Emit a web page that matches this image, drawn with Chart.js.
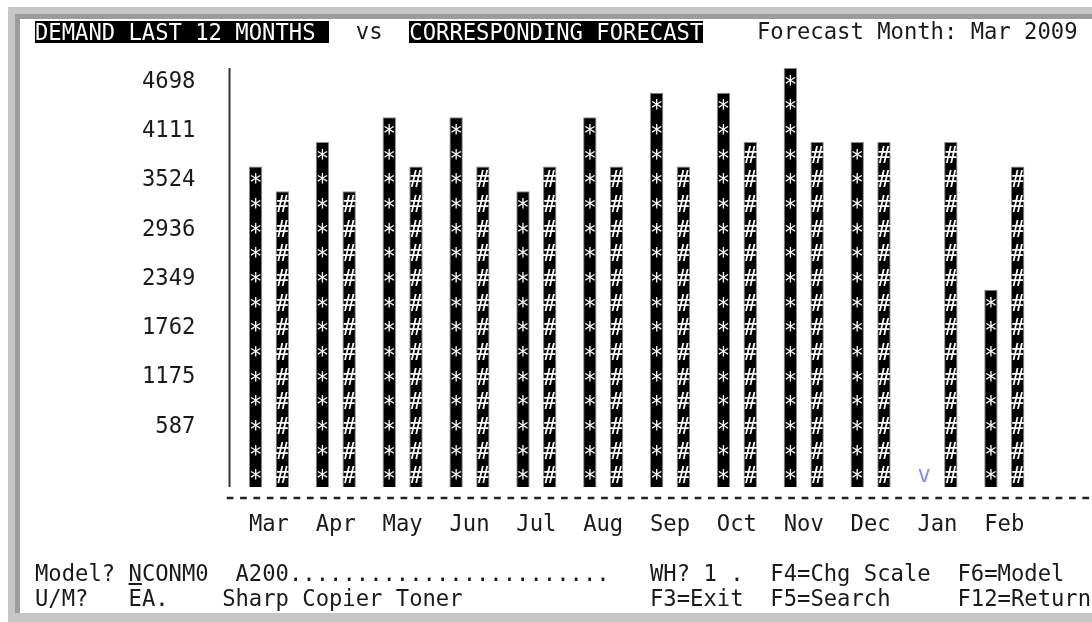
<!DOCTYPE html>
<html><head><meta charset="utf-8">
<script src="https://cdn.jsdelivr.net/npm/chart.js@4.4.0/dist/chart.umd.min.js"></script>
<style>
html,body{margin:0;padding:0;background:#fff;width:1092px;height:622px;overflow:hidden;position:relative;}
#frame{position:absolute;left:8px;top:7px;width:1100px;height:620px;background:#c6c6c6;}
#screen{position:absolute;left:15px;top:14px;width:1100px;height:594px;background:#fff;border-left:5px solid #9c9c9c;border-top:5px solid #9c9c9c;}
.t{position:absolute;font-family:'DejaVu Sans Mono',monospace;font-size:22.2px;line-height:24.65px;white-space:pre;color:#1a1a1a;z-index:3;}
.rv{background:#000;color:#fff;line-height:22px;height:22px;}
.ul{text-decoration:underline;text-decoration-thickness:2px;text-underline-offset:2px;}
#c{position:absolute;left:0;top:0;z-index:2;}
</style></head>
<body>
<div id="frame"></div>
<div id="screen"></div>
<canvas id="c" width="1092" height="622"></canvas>
<script>
// ---- data ----
const months = ['Mar','Apr','May','Jun','Jul','Aug','Sep','Oct','Nov','Dec','Jan','Feb'];
const demand = [3524, 3817, 4111, 4111, 3230, 4111, 4404, 4404, 4698, 3817, 0, 2055];
const forecast = [3230, 3230, 3524, 3524, 3524, 3524, 3524, 3817, 3817, 3817, 3817, 3524];
const yTickValues = [587, 1175, 1762, 2349, 2936, 3524, 4111, 4698];

// ---- terminal grid ----
const CW = 13.37, RH = 24.65, X0 = 21.6, Y0 = 18.7;
function put(col,row,text,cls,extraTop){
  const s=document.createElement('div');
  s.className='t'+(cls?' '+cls:'');
  s.style.left=(X0+col*CW)+'px';
  s.style.top=(Y0+row*RH+(extraTop||0))+'px';
  s.textContent=text;
  document.body.appendChild(s);
  return s;
}
put(1,0,'DEMAND LAST 12 MONTHS ','rv',2.3);
put(25,0,'vs');
put(29,0,'CORRESPONDING FORECAST','rv',2.3);
put(55,0,'Forecast Month: Mar 2009');
put(1,22,'Model?');
const n=put(8,22,'');
n.innerHTML='<span class="ul">N</span>CONM0';
put(16,22,'A200');
put(20,22,'........................');
put(47,22,'WH?');
put(51,22,'1');
put(53,22,'.');
put(56,22,'F4=Chg Scale');
put(70,22,'F6=Model');
put(1,23,'U/M?');
put(8,23,'EA');
put(10,23,'.');
put(15,23,'Sharp Copier Toner');
put(47,23,'F3=Exit');
put(56,23,'F5=Search');
put(70,23,'F12=Return');

// ---- chart ----
const rowUnit = yTickValues[yTickValues.length-1]/16;
const FONT = {family:"'DejaVu Sans Mono', monospace", size:22.2, lineHeight:1.2};
const glyphs = ['*','#'];

const termPlugin = {
  id:'term',
  beforeDatasetsDraw(chart){
    const {ctx, chartArea:a} = chart;
    ctx.save();
    ctx.strokeStyle='#333'; ctx.lineWidth=2;
    ctx.beginPath(); ctx.moveTo(a.left-6, a.top); ctx.lineTo(a.left-6, a.bottom); ctx.stroke();
    ctx.strokeStyle='#222'; ctx.lineWidth=2.5;
    ctx.setLineDash([6.7, CW-6.7]);
    ctx.beginPath(); ctx.moveTo(a.left-8.8, a.bottom+11); ctx.lineTo(chart.width, a.bottom+11); ctx.stroke();
    ctx.restore();
  },
  afterDatasetsDraw(chart){
    const ctx = chart.ctx, ys = chart.scales.y;
    const rowPx = ys.getPixelForValue(0) - ys.getPixelForValue(rowUnit);
    ctx.save();
    ctx.font = "22.2px 'DejaVu Sans Mono', monospace";
    ctx.textAlign='center'; ctx.textBaseline='alphabetic';
    chart.data.datasets.forEach((ds,i)=>{
      const meta = chart.getDatasetMeta(i);
      const g = glyphs[i];
      const m = ctx.measureText(g);
      const gh = m.actualBoundingBoxAscent + m.actualBoundingBoxDescent;
      meta.data.forEach((bar,j)=>{
        const p = bar.getProps(['x','y','base'], true);
        if (ds.data[j] === 0){
          ctx.fillStyle='#7f8ff5';
          ctx.fillText('v', p.x, p.base - rowPx + 20);
          return;
        }
        ctx.fillStyle='#fff';
        const rows = Math.round((p.base - p.y)/rowPx);
        for(let k=0;k<rows;k++){
          const cy = p.base - (k+0.5)*rowPx;
          ctx.fillText(g, p.x, cy + m.actualBoundingBoxAscent - gh/2);
        }
      });
    });
    ctx.restore();
  }
};

new Chart(document.getElementById('c'), {
  type:'bar',
  data:{
    labels: months,
    datasets:[
      {label:'Demand', data:demand, base:-rowUnit,
       backgroundColor:(c)=> c.raw===0 ? 'rgba(0,0,0,0)' : '#000',
       borderColor:(c)=> c.raw===0 ? 'rgba(0,0,0,0)' : '#8a8a8a', borderWidth:1,
       barPercentage:0.5, categoryPercentage:0.8},
      {label:'Forecast', data:forecast, base:-rowUnit,
       backgroundColor:'#000', borderColor:'#8a8a8a', borderWidth:1,
       barPercentage:0.5, categoryPercentage:0.8}
    ]
  },
  options:{
    responsive:false, animation:false, devicePixelRatio:1,
    layout:{padding:{left:0,right:1092-(X0+76*CW),top:68,bottom:0}},
    plugins:{legend:{display:false}, tooltip:{enabled:false}},
    scales:{
      x:{
        grid:{display:false, drawTicks:false}, border:{display:false},
        ticks:{font:FONT, color:'#1a1a1a', padding:25, maxRotation:0, autoSkip:false},
        afterFit(s){ s.height = 135; }
      },
      y:{
        min:-rowUnit, max:yTickValues[yTickValues.length-1],
        grid:{display:false, drawTicks:false}, border:{display:false},
        afterBuildTicks(s){ s.ticks = yTickValues.map(v=>({value:v})); },
        ticks:{font:FONT, color:'#1a1a1a', padding:X0+16*CW-(X0+13*CW), labelOffset:14, callback:(v)=>String(v)},
        afterFit(s){ s.width = X0+16*CW; }
      }
    }
  },
  plugins:[termPlugin]
});
</script>
</body></html>
